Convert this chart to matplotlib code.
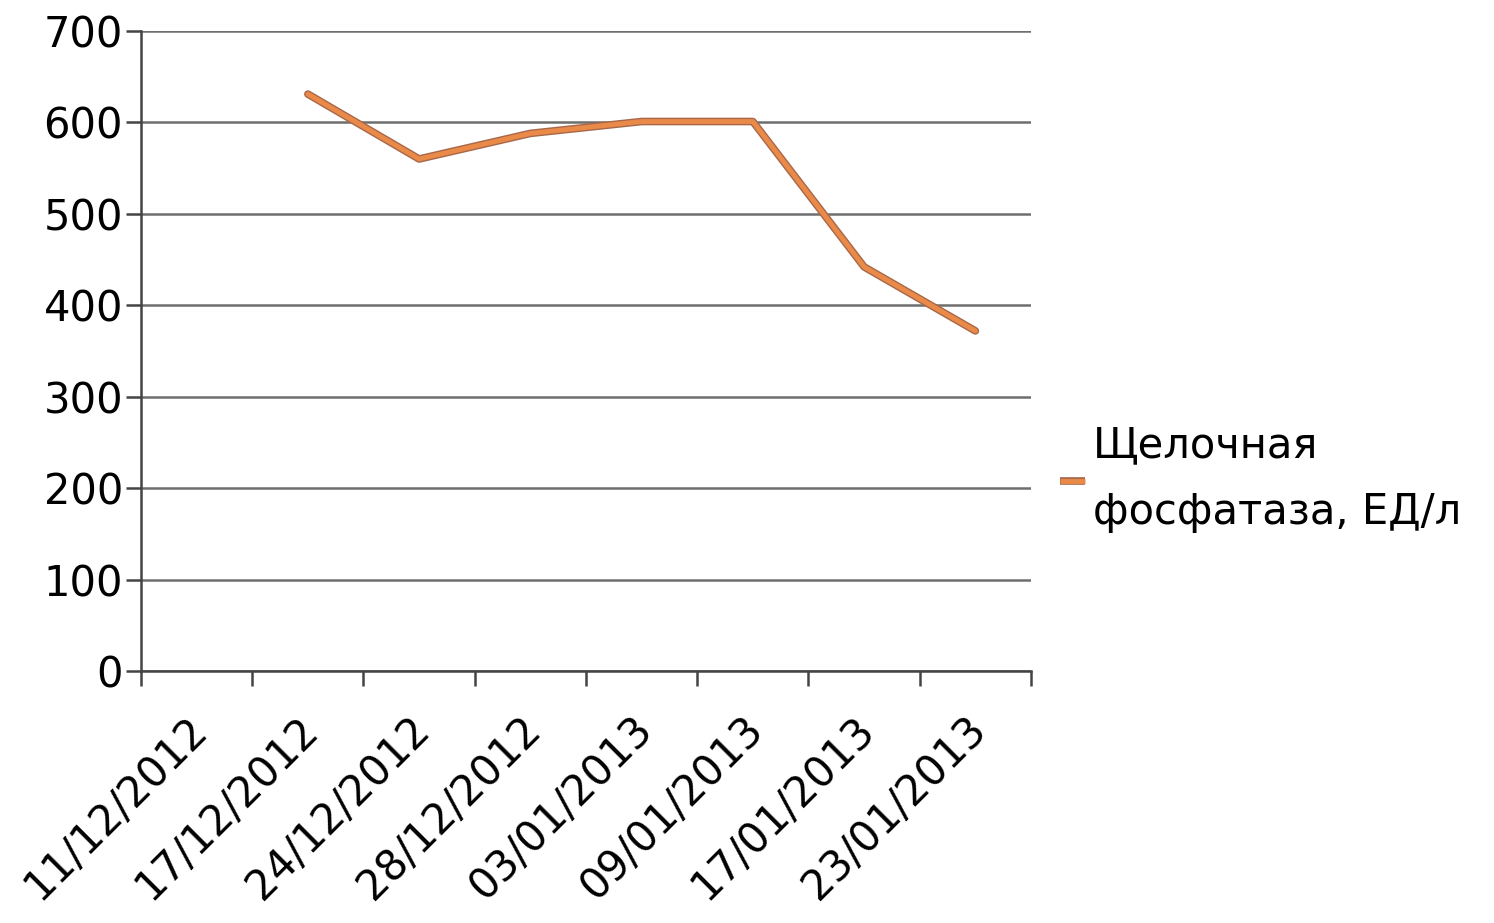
import numpy as np
import matplotlib.pyplot as plt
import matplotlib.patheffects as pe

dates = ['11/12/2012', '17/12/2012', '24/12/2012', '28/12/2012',
         '03/01/2013', '09/01/2013', '17/01/2013', '23/01/2013']
alp = [np.nan, 631, 560, 588, 601, 601, 442, 372]
series_name = 'Щелочная\nфосфатаза, ЕД/л'

plt.rcParams['font.family'] = ['DejaVu Sans']

fig = plt.figure(figsize=(14.94, 9.23), dpi=100)
ax = fig.add_axes([141 / 1494, 1 - 671 / 923, (1031 - 141) / 1494, (671 - 31) / 923])

x = np.arange(len(dates))
ax.plot(x, alp, color='#e98a48', lw=3.5, solid_capstyle='round',
        path_effects=[pe.Stroke(linewidth=5.5, foreground='#a8674a'), pe.Normal()],
        label=series_name, zorder=3)

ax.set_xlim(-0.5, len(dates) - 0.5)
ax.set_ylim(0, 700)
ax.set_yticks(range(0, 701, 100))
ax.grid(axis='y', color='#6e6e6e', lw=1.8)
ax.set_axisbelow(True)

# tick marks at category boundaries, labels near centers (slightly left, like the original)
ax.set_xticks(np.arange(-0.5, len(dates)), minor=False)
ax.set_xticklabels([])
ax.set_xticks(x - 0.1, minor=True)
ax.set_xticklabels(dates, minor=True, rotation=45, ha='right', va='top',
                   rotation_mode='anchor', fontsize=30)
ax.tick_params(axis='x', which='major', length=11, width=1.8, color='#444444', direction='out')
ax.tick_params(axis='x', which='minor', length=0, pad=27)
ax.tick_params(axis='y', length=11, width=1.8, color='#444444', labelsize=30, pad=2)

for s in ['top', 'right']:
    ax.spines[s].set_visible(False)
for s in ['left', 'bottom']:
    ax.spines[s].set_color('#444444')
    ax.spines[s].set_linewidth(1.8)

leg = ax.legend(loc='center left', bbox_to_anchor=(0.99, 0.30), frameon=False,
                fontsize=30, handlelength=0.6, handletextpad=0.2)
for t in leg.get_texts():
    t.set_linespacing(1.75)
for h in leg.get_lines():
    h.set_solid_capstyle('butt')

fig.savefig('out.png', dpi=100)
